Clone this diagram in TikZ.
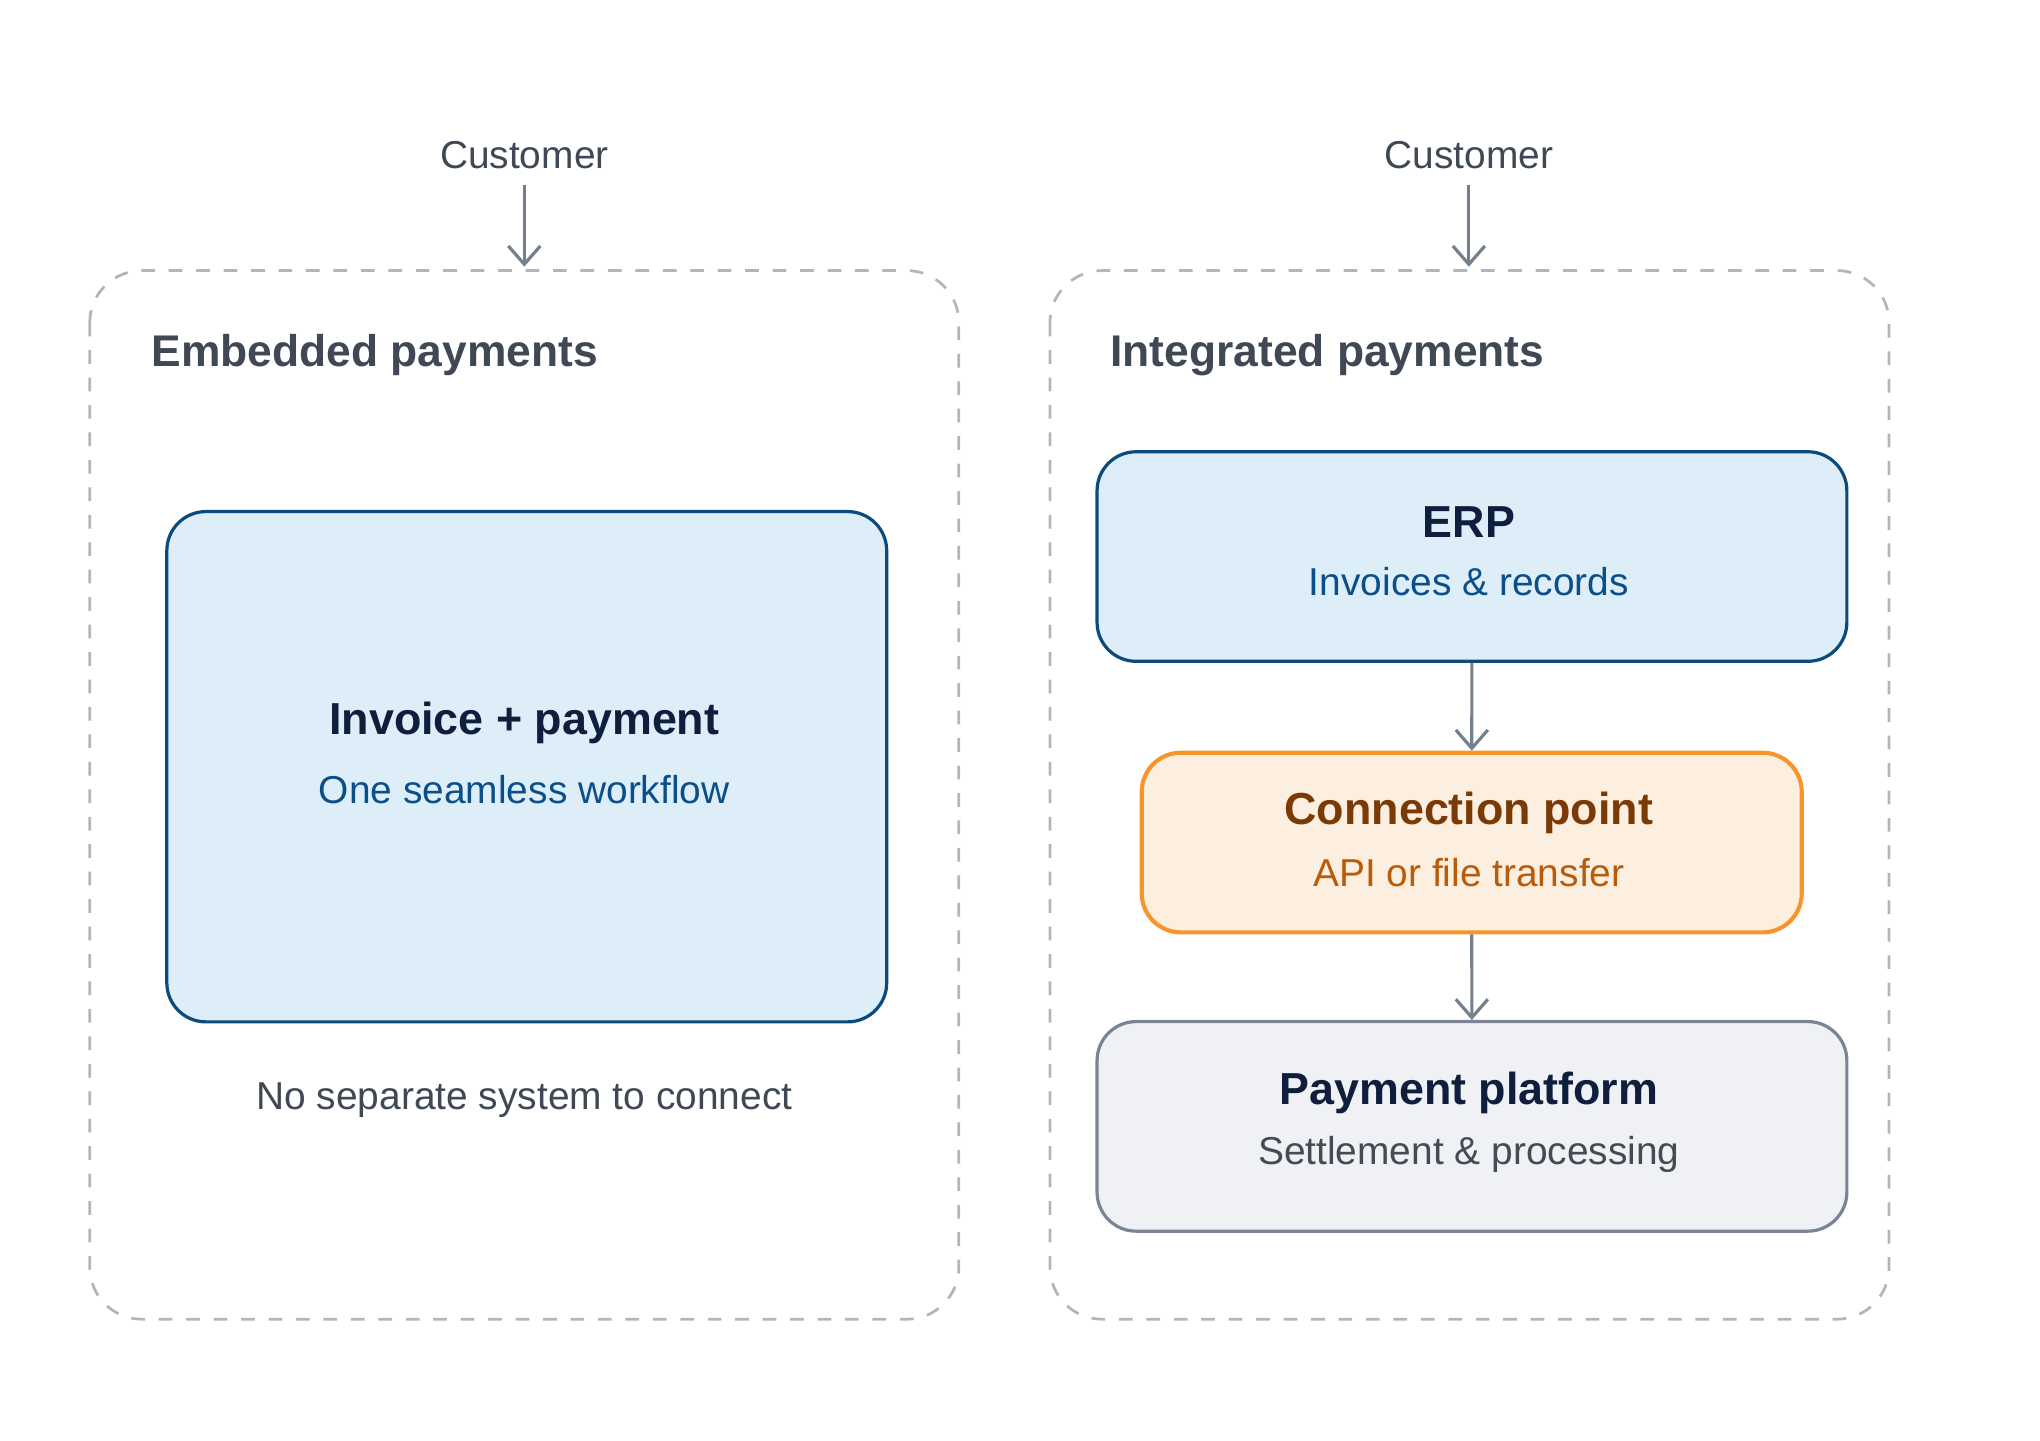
\documentclass[tikz,border=0pt]{standalone}
\usepackage{fontspec}
\setmainfont{Liberation Sans}
\usetikzlibrary{arrows.meta,positioning}
\definecolor{dashgray}{HTML}{B4B4BC}
\definecolor{arrowgray}{HTML}{75808F}
\definecolor{headgray}{HTML}{3F4854}
\definecolor{navy}{HTML}{0F1E3C}
\definecolor{bluefill}{HTML}{DDEEF9}
\definecolor{blueline}{HTML}{0B4A7D}
\definecolor{bluetext}{HTML}{0B4F8A}
\definecolor{orangefill}{HTML}{FDEFE0}
\definecolor{orangeline}{HTML}{F7952B}
\definecolor{orangetitle}{HTML}{7A3A06}
\definecolor{orangetext}{HTML}{B85C0A}
\definecolor{grayfill}{HTML}{EFF1F5}
\definecolor{grayline}{HTML}{7A8494}
\definecolor{graytext}{HTML}{444B55}
\begin{document}
\begin{tikzpicture}[x=0.01cm,y=-0.01cm,>={Straight Barb[length=4pt,width=7pt]},
  group/.style={draw=dashgray,line width=0.6pt,dash pattern=on 3pt off 3pt,rounded corners=0.4cm},
  box/.style={line width=0.7pt,rounded corners=0.3cm,anchor=north west},
  blue box/.style={box,draw=blueline,fill=bluefill},
  orange box/.style={box,draw=orangeline,fill=orangefill,line width=0.9pt},
  gray box/.style={box,draw=grayline,fill=grayfill},
  title/.style={font=\bfseries\fontsize{9.8}{11}\selectfont,text=navy},
  sub/.style={font=\fontsize{8.5}{10}\selectfont},
  plain/.style={font=\fontsize{8.5}{10}\selectfont,text=headgray},
  head/.style={font=\bfseries\fontsize{9.7}{11}\selectfont,text=headgray,anchor=west},
  flow/.style={->,draw=arrowgray,line width=0.7pt}]
\useasboundingbox (0,0) rectangle (1568,1107);

% groups
\draw[group] (69,208) rectangle (737,1014);
\draw[group] (807,208) rectangle (1452,1014);
\node[head] (embHead) at (104,273) {Embedded payments};
\node[head] (intHead) at (841,273) {Integrated payments};

% customers
\node[plain] (custL) at (403,119) {Customer};
\node[plain] (custR) at (1129,119) {Customer};
\coordinate (inL) at (403,205);
\coordinate (inR) at (1129,205);
\draw[flow] (custL) -- (inL);
\draw[flow] (custR) -- (inR);

% embedded
\node[blue box,minimum width=5.53cm,minimum height=3.92cm] (invoice) at (127,392) {};
\node[title] (invoiceT) at (403,556) {Invoice + payment};
\node[sub,text=bluetext] (invoiceS) at (403,607) {One seamless workflow};
\node[plain] (noSep) at (403,846) {No separate system to connect};

% integrated
\node[blue box,minimum width=5.76cm,minimum height=1.61cm] (erp) at (842,346) {};
\node[title] (erpT) at (1129,401) {ERP};
\node[sub,text=bluetext] (erpS) at (1129,447) {Invoices \& records};

\node[orange box,minimum width=5.07cm,minimum height=1.38cm] (conn) at (876,577) {};
\node[title,text=orangetitle] (connT) at (1129,625) {Connection point};
\node[sub,text=orangetext] (connS) at (1129,671) {API or file transfer};

\node[gray box,minimum width=5.76cm,minimum height=1.61cm] (pay) at (842,784) {};
\node[title] (payT) at (1129,840) {Payment platform};
\node[sub,text=graytext] (payS) at (1129,887) {Settlement \& processing};

\draw[flow] (erp) -- (conn);
\draw[flow] (conn) -- (pay);
\end{tikzpicture}
\end{document}
